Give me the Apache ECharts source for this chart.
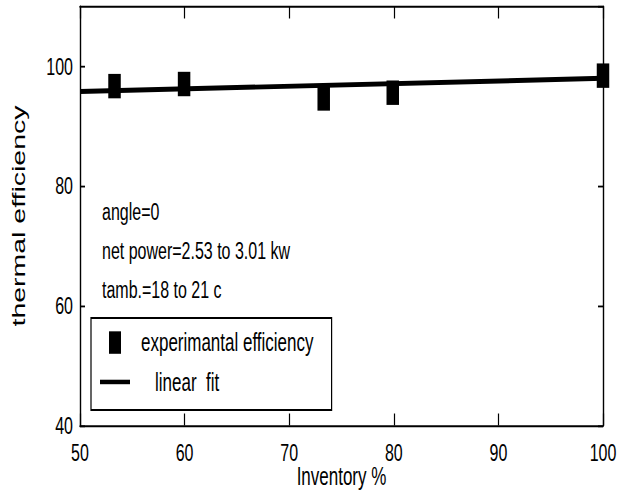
<!DOCTYPE html>
<html>
<head>
<meta charset="utf-8">
<title>thermal efficiency vs inventory</title>
<script src="https://cdn.jsdelivr.net/npm/echarts@6/dist/echarts.min.js"></script>
<style>
  html, body { margin: 0; padding: 0; background: #fff; }
  #wrap { width: 617px; height: 493px; overflow: hidden; }
  /* the plot is laid out on a shorter canvas and stretched vertically */
  #chart { width: 617px; height: 329px; transform: scaleY(1.4985); transform-origin: 0 0; }
</style>
</head>
<body>
<div id="wrap"><div id="chart"></div></div>
<script>
// measured points
const inventory = [53.3, 59.95, 73.3, 79.9, 100];
const efficiency = [96.7, 97.05, 94.64, 95.6, 98.45];

// straight-line fit, end points
const fitInventory = [50, 100];
const fitEfficiency = [95.8, 98.0];

// axis ranges and tick steps
const xRange = [50, 100];
const xStep = 10;
const yRange = [40, 110];
const yStep = 20;

// run conditions written inside the plot
const notes = ['angle=0', 'net power=2.53 to 3.01 kw', 'tamb.=18 to 21 c'];

const seriesNames = ['experimantal efficiency', 'linear  fit'];

const FONT = '"Liberation Sans", Arial, Helvetica, sans-serif';
const INK = '#000';

const chart = echarts.init(document.getElementById('chart'), null, {
  renderer: 'svg', width: 617, height: 329
});

const axisLine = { show: true, lineStyle: { color: INK, width: 1.4 } };

function xAxisDef(position, labels) {
  return {
    type: 'value', position: position,
    min: xRange[0], max: xRange[1], interval: xStep,
    axisLine: axisLine,
    axisTick: { show: true, inside: true, length: 8, lineStyle: { color: INK, width: 1.2 } },
    axisLabel: { show: labels, color: INK, fontFamily: FONT, fontSize: 16, margin: 10 },
    splitLine: { show: false }
  };
}
function yAxisDef(position, labels) {
  return {
    type: 'value', position: position,
    min: yRange[0], max: yRange[1], interval: yStep,
    axisLine: axisLine,
    axisTick: { show: true, inside: true, length: 5, lineStyle: { color: INK, width: 1.2 } },
    axisLabel: { show: labels, showMaxLabel: false, color: INK, fontFamily: FONT, fontSize: 16, margin: 7 },
    splitLine: { show: false }
  };
}

const xMain = xAxisDef('bottom', true);
xMain.name = 'Inventory %';
xMain.nameLocation = 'middle';
xMain.nameGap = 25;
xMain.nameMoveOverlap = false;
xMain.nameTextStyle = { color: INK, fontFamily: FONT, fontSize: 17 };

const yMain = yAxisDef('left', true);
yMain.name = 'thermal efficiency';
yMain.nameLocation = 'middle';
yMain.nameGap = 52;
yMain.nameMoveOverlap = false;
yMain.nameTextStyle = { color: INK, fontFamily: FONT, fontSize: 19 };

chart.setOption({
  animation: false,
  backgroundColor: '#fff',
  grid: {
    left: 80, right: 14, top: 4.34, bottom: 45.05,
    containLabel: false, outerBoundsMode: 'none'
  },
  xAxis: [xMain, xAxisDef('top', false)],
  yAxis: [yMain, yAxisDef('right', false)],
  legend: {
    orient: 'vertical',
    left: 91, top: 212.2,
    padding: [7.9, 18, 10.2, 9],
    itemWidth: 30, itemHeight: 15, itemGap: 9.3,
    borderColor: INK, borderWidth: 1.2,
    backgroundColor: '#fff',
    symbolKeepAspect: true,
    textStyle: { color: INK, fontFamily: FONT, fontSize: 17 },
    data: [
      { name: seriesNames[0], icon: 'path://M0 0H12V15H0Z',
        itemStyle: { color: INK }, textStyle: { padding: [0, 0, 0, 6] } },
      { name: seriesNames[1], icon: 'path://M0 0H30V3H0Z',
        itemStyle: { color: INK }, textStyle: { padding: [0, 0, 0, 20] } }
    ]
  },
  graphic: notes.map(function (t, i) {
    return {
      type: 'text', x: 102, y: 141.5 + i * 26,
      style: { text: t, fill: INK, font: '16px ' + FONT, verticalAlign: 'middle' }
    };
  }),
  series: [
    {
      name: seriesNames[1], type: 'line',
      data: fitInventory.map(function (x, i) { return [x, fitEfficiency[i]]; }),
      showSymbol: false, symbol: 'none',
      color: INK,
      lineStyle: { color: INK, width: 3.3 },
      z: 2
    },
    {
      name: seriesNames[0], type: 'scatter',
      data: inventory.map(function (x, i) { return [x, efficiency[i]]; }),
      symbol: 'rect', symbolSize: [12.5, 16.3],
      color: INK,
      itemStyle: { color: INK, opacity: 1 },
      clip: false,
      z: 3
    }
  ]
});
</script>
</body>
</html>
